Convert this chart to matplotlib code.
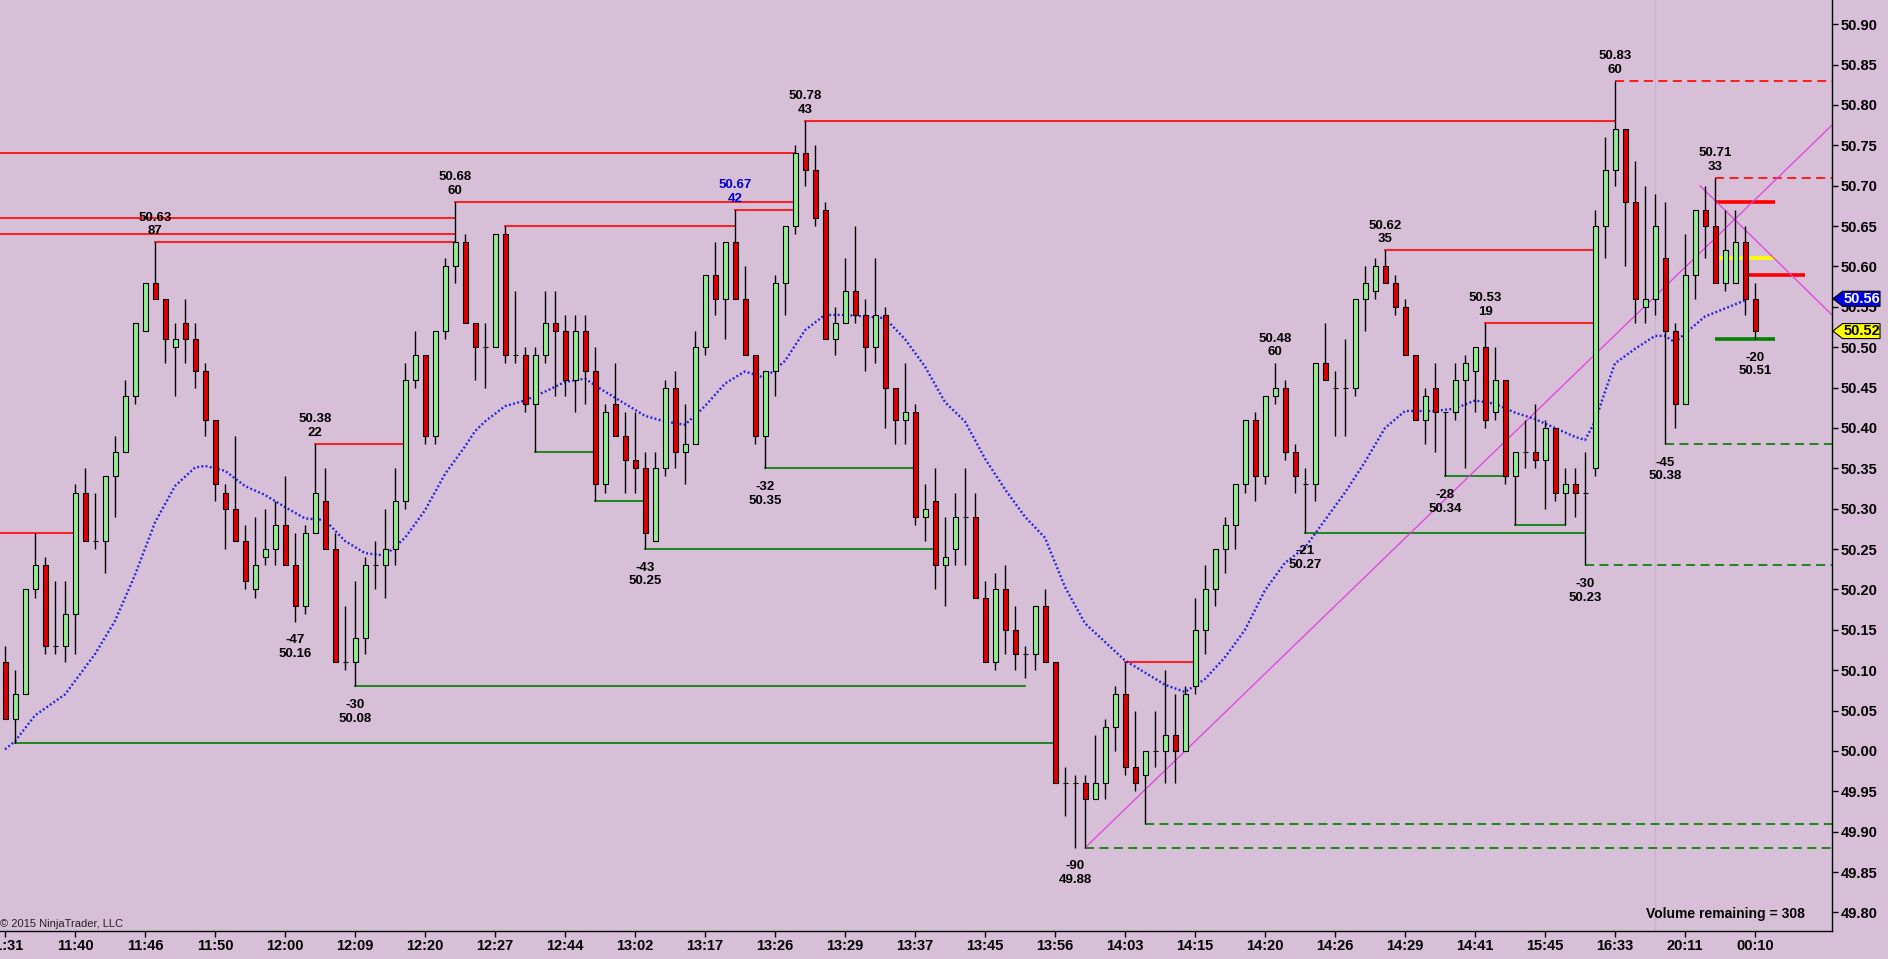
import matplotlib
matplotlib.use('Agg')
import matplotlib.pyplot as plt
from matplotlib.patches import Polygon
import numpy as np

# OHLC per bar
opens = [50.11, 50.04, 50.07, 50.20, 50.23, 50.13, 50.13, 50.17, 50.32, 50.26,
         50.26, 50.34, 50.37, 50.44, 50.52, 50.58, 50.56, 50.50, 50.53, 50.51,
         50.47, 50.41, 50.32, 50.30, 50.26, 50.20, 50.24, 50.25, 50.28, 50.23,
         50.18, 50.27, 50.31, 50.25, 50.11, 50.11, 50.14, 50.23, 50.23, 50.25,
         50.31, 50.46, 50.49, 50.39, 50.52, 50.60, 50.63, 50.53, 50.50, 50.50,
         50.64, 50.49, 50.49, 50.43, 50.49, 50.53, 50.52, 50.46, 50.52, 50.47,
         50.33, 50.43, 50.39, 50.36, 50.35, 50.26, 50.35, 50.45, 50.37, 50.38,
         50.50, 50.59, 50.56, 50.63, 50.56, 50.49, 50.39, 50.47, 50.58, 50.65,
         50.74, 50.72, 50.67, 50.51, 50.53, 50.57, 50.54, 50.50, 50.54, 50.45,
         50.41, 50.42, 50.29, 50.31, 50.23, 50.25, 50.29, 50.29, 50.19, 50.11,
         50.20, 50.15, 50.12, 50.12, 50.18, 50.11, 49.96, 49.96, 49.96, 49.94,
         49.96, 50.03, 50.07, 49.98, 49.97, 50.00, 50.00, 50.02, 50.00, 50.08,
         50.15, 50.20, 50.25, 50.28, 50.33, 50.41, 50.34, 50.44, 50.45, 50.37,
         50.33, 50.33, 50.48, 50.45, 50.45, 50.45, 50.56, 50.57, 50.60, 50.58,
         50.55, 50.49, 50.41, 50.45, 50.42, 50.42, 50.46, 50.47, 50.50, 50.42,
         50.46, 50.34, 50.37, 50.37, 50.36, 50.40, 50.32, 50.33, 50.32, 50.35,
         50.65, 50.72, 50.77, 50.68, 50.55, 50.56, 50.61, 50.52, 50.43, 50.59,
         50.67, 50.65, 50.58, 50.58, 50.63, 50.56]
highs = [50.13, 50.10, 50.20, 50.27, 50.24, 50.21, 50.21, 50.33, 50.35, 50.32,
         50.34, 50.39, 50.46, 50.53, 50.58, 50.63, 50.56, 50.53, 50.56, 50.53,
         50.48, 50.41, 50.33, 50.39, 50.28, 50.29, 50.30, 50.31, 50.34, 50.27,
         50.28, 50.38, 50.35, 50.27, 50.18, 50.21, 50.24, 50.26, 50.30, 50.35,
         50.48, 50.52, 50.49, 50.52, 50.61, 50.68, 50.64, 50.53, 50.53, 50.64,
         50.65, 50.57, 50.50, 50.50, 50.57, 50.57, 50.54, 50.54, 50.54, 50.50,
         50.43, 50.48, 50.42, 50.42, 50.37, 50.37, 50.46, 50.47, 50.43, 50.52,
         50.59, 50.63, 50.63, 50.67, 50.60, 50.49, 50.47, 50.59, 50.65, 50.75,
         50.78, 50.75, 50.68, 50.55, 50.61, 50.65, 50.56, 50.61, 50.55, 50.45,
         50.48, 50.43, 50.33, 50.35, 50.29, 50.32, 50.35, 50.32, 50.21, 50.22,
         50.23, 50.18, 50.13, 50.18, 50.20, 50.11, 49.98, 49.97, 49.97, 50.02,
         50.04, 50.08, 50.11, 50.05, 50.00, 50.05, 50.10, 50.07, 50.08, 50.19,
         50.23, 50.25, 50.29, 50.33, 50.41, 50.42, 50.44, 50.48, 50.46, 50.38,
         50.35, 50.48, 50.53, 50.47, 50.51, 50.56, 50.60, 50.61, 50.62, 50.59,
         50.56, 50.49, 50.45, 50.48, 50.42, 50.48, 50.49, 50.50, 50.53, 50.50,
         50.46, 50.37, 50.41, 50.43, 50.41, 50.40, 50.35, 50.35, 50.37, 50.67,
         50.76, 50.83, 50.77, 50.73, 50.70, 50.69, 50.68, 50.53, 50.64, 50.67,
         50.70, 50.71, 50.67, 50.67, 50.65, 50.58]
lows = [50.04, 50.01, 50.07, 50.19, 50.12, 50.12, 50.11, 50.12, 50.26, 50.25,
        50.22, 50.29, 50.37, 50.43, 50.52, 50.56, 50.48, 50.44, 50.48, 50.45,
        50.39, 50.31, 50.25, 50.26, 50.20, 50.19, 50.23, 50.23, 50.23, 50.16,
        50.17, 50.27, 50.25, 50.11, 50.10, 50.08, 50.12, 50.20, 50.19, 50.23,
        50.30, 50.45, 50.38, 50.38, 50.51, 50.58, 50.53, 50.46, 50.45, 50.50,
        50.48, 50.48, 50.42, 50.37, 50.48, 50.44, 50.44, 50.42, 50.43, 50.31,
        50.32, 50.39, 50.32, 50.32, 50.25, 50.26, 50.34, 50.35, 50.33, 50.38,
        50.49, 50.54, 50.51, 50.56, 50.49, 50.38, 50.35, 50.44, 50.54, 50.64,
        50.70, 50.65, 50.51, 50.49, 50.53, 50.53, 50.47, 50.48, 50.40, 50.38,
        50.38, 50.28, 50.26, 50.20, 50.18, 50.23, 50.23, 50.19, 50.11, 50.10,
        50.12, 50.10, 50.09, 50.10, 50.11, 49.96, 49.92, 49.88, 49.88, 49.94,
        49.94, 50.00, 49.97, 49.95, 49.91, 49.98, 49.96, 49.96, 50.00, 50.07,
        50.12, 50.18, 50.22, 50.25, 50.32, 50.31, 50.33, 50.43, 50.36, 50.32,
        50.27, 50.31, 50.46, 50.39, 50.39, 50.44, 50.52, 50.56, 50.58, 50.54,
        50.49, 50.41, 50.38, 50.37, 50.34, 50.41, 50.35, 50.42, 50.40, 50.41,
        50.33, 50.28, 50.35, 50.35, 50.30, 50.31, 50.28, 50.29, 50.23, 50.34,
        50.61, 50.70, 50.60, 50.53, 50.53, 50.54, 50.38, 50.40, 50.43, 50.56,
        50.61, 50.58, 50.57, 50.58, 50.54, 50.51]
closes = [50.04, 50.07, 50.20, 50.23, 50.13, 50.13, 50.17, 50.32, 50.26, 50.26,
          50.34, 50.37, 50.44, 50.53, 50.58, 50.56, 50.51, 50.51, 50.51, 50.47,
          50.41, 50.33, 50.30, 50.26, 50.21, 50.23, 50.25, 50.28, 50.23, 50.18,
          50.27, 50.32, 50.25, 50.11, 50.11, 50.14, 50.23, 50.23, 50.25, 50.31,
          50.46, 50.49, 50.39, 50.52, 50.60, 50.63, 50.53, 50.50, 50.50, 50.64,
          50.49, 50.49, 50.43, 50.49, 50.53, 50.52, 50.46, 50.52, 50.47, 50.33,
          50.42, 50.39, 50.36, 50.35, 50.27, 50.35, 50.45, 50.37, 50.38, 50.50,
          50.59, 50.56, 50.63, 50.56, 50.49, 50.39, 50.47, 50.58, 50.65, 50.74,
          50.72, 50.66, 50.51, 50.53, 50.57, 50.54, 50.50, 50.54, 50.45, 50.41,
          50.42, 50.29, 50.30, 50.23, 50.24, 50.29, 50.29, 50.19, 50.11, 50.20,
          50.15, 50.12, 50.12, 50.18, 50.11, 49.96, 49.96, 49.96, 49.94, 49.96,
          50.03, 50.07, 49.98, 49.96, 50.00, 50.00, 50.02, 50.00, 50.07, 50.15,
          50.20, 50.25, 50.28, 50.33, 50.41, 50.34, 50.44, 50.45, 50.37, 50.34,
          50.33, 50.48, 50.46, 50.45, 50.45, 50.56, 50.58, 50.60, 50.58, 50.55,
          50.49, 50.41, 50.44, 50.42, 50.42, 50.46, 50.48, 50.50, 50.41, 50.46,
          50.34, 50.37, 50.37, 50.36, 50.40, 50.32, 50.33, 50.32, 50.32, 50.65,
          50.72, 50.77, 50.68, 50.56, 50.56, 50.65, 50.52, 50.43, 50.59, 50.67,
          50.65, 50.58, 50.62, 50.63, 50.56, 50.52]

# time labels every 7 bars
time_labels = ['11:31', '11:40', '11:46', '11:50', '12:00', '12:09', '12:20', '12:27',
               '12:44', '13:02', '13:17', '13:26', '13:29', '13:37', '13:45', '13:56',
               '14:03', '14:15', '14:20', '14:26', '14:29', '14:41', '15:45', '16:33',
               '20:11', '00:10']

# moving average (blue dotted), sampled bar / value
ma_idx = [0, 1, 3, 6, 9, 11, 13, 15, 17, 19, 20, 22, 24, 26, 28, 30, 32, 34, 36, 38,
          40, 42, 44, 46, 47, 48, 50, 52, 54, 56, 58, 60, 62, 64, 66, 68, 70, 72, 74,
          76, 78, 80, 82, 84, 86, 88, 90, 92, 94, 96, 98, 100, 102, 104, 106, 108,
          110, 112, 114, 116, 118, 120, 122, 124, 126, 128, 130, 132, 134, 136, 138,
          140, 141, 143, 145, 147, 149, 151, 153, 155, 157, 158, 159, 160, 161, 163,
          165, 166, 167, 168, 170, 172, 174]
ma_val = [50.002, 50.012, 50.044, 50.070, 50.120, 50.161, 50.218, 50.283, 50.328,
          50.351, 50.353, 50.347, 50.328, 50.317, 50.302, 50.288, 50.286, 50.260,
          50.245, 50.242, 50.264, 50.298, 50.343, 50.377, 50.396, 50.408, 50.427,
          50.434, 50.445, 50.457, 50.461, 50.445, 50.430, 50.415, 50.408, 50.404,
          50.427, 50.455, 50.470, 50.462, 50.483, 50.521, 50.540, 50.540, 50.538,
          50.536, 50.510, 50.476, 50.432, 50.408, 50.362, 50.324, 50.290, 50.264,
          50.203, 50.158, 50.135, 50.112, 50.097, 50.082, 50.073, 50.089, 50.116,
          50.150, 50.199, 50.233, 50.252, 50.286, 50.320, 50.358, 50.400, 50.421,
          50.421, 50.421, 50.424, 50.434, 50.430, 50.419, 50.411, 50.400, 50.389,
          50.385, 50.408, 50.445, 50.480, 50.498, 50.514, 50.514, 50.506, 50.517,
          50.538, 50.548, 50.558]

# broken resistance / support levels
res_level = [50.27, 50.74, 50.66, 50.64, 50.63, 50.38, 50.68, 50.65, 50.67, 50.78,
             50.11, 50.62, 50.53]
res_from = [-0.5, -0.5, -0.5, -0.5, 15, 31, 45, 50, 73, 80, 112, 138, 148]
res_to = [7, 79, 45, 45, 45, 40, 79, 73, 79, 161, 119, 159, 159]
sup_level = [50.01, 50.08, 50.37, 50.31, 50.25, 50.35, 50.27, 50.34, 50.28]
sup_from = [1, 35, 53, 59, 64, 76, 130, 144, 151]
sup_to = [105, 102, 59, 64, 93, 91, 158, 150, 156]
# still open levels (dashed, to the right edge)
open_res_level = [50.83, 50.71]
open_res_from = [161, 171]
open_sup_level = [49.91, 49.88, 50.23, 50.38]
open_sup_from = [114, 108, 158, 166]

# short thick zone marks at the right
zone_level = [50.68, 50.61, 50.59, 50.51]
zone_from = [171, 171, 174, 171]
zone_to = [177, 177, 180, 177]
zone_color = ['#ff0000', '#ffff00', '#ff0000', '#008000']

# swing labels
hi_idx = [15, 31, 45, 73, 80, 127, 138, 148, 161, 171]
hi_cnt = [87, 22, 60, 42, 43, 60, 35, 19, 60, 33]
lo_idx = [29, 35, 64, 76, 107, 130, 144, 158, 166, 175]
lo_cnt = [-47, -30, -43, -32, -90, -21, -28, -30, -45, -20]

# trend lines
trend_up_x = [108, 182.7]
trend_up_y = [49.88, 50.775]
trend_dn_x = [169.5, 182.7]
trend_dn_y = [50.70, 50.54]

last_price = 50.52
ma_last = 50.56

plt.rcParams['font.family'] = ['Liberation Sans', 'DejaVu Sans']
bg = '#d8bfd8'

fig = plt.figure(figsize=(18.88, 9.59), dpi=100, facecolor=bg)
ax = fig.add_axes([0, 28 / 959, 1832 / 1888, 931 / 959])
ax.set_facecolor(bg)

n = len(opens)
x = np.arange(n)
o = np.array(opens)
c = np.array(closes)
h = np.array(highs)
l = np.array(lows)
xmin, xmax = -0.5, 182.7

# session separator
ax.axvline(165, color='#c4b4c4', lw=0.9, zorder=1)

# level lines
for lv, a, b in zip(res_level, res_from, res_to):
    ax.plot([a, b], [lv, lv], color='#ff1010', lw=1.3, zorder=2)
for lv, a, b in zip(sup_level, sup_from, sup_to):
    ax.plot([a, b], [lv, lv], color='#108010', lw=1.3, zorder=2)
for lv, a in zip(open_res_level, open_res_from):
    ax.plot([a, xmax], [lv, lv], color='#ff1010', lw=1.3, ls=(0, (5, 3)), zorder=2)
for lv, a in zip(open_sup_level, open_sup_from):
    ax.plot([a, xmax], [lv, lv], color='#108010', lw=1.3, ls=(0, (5, 3)), zorder=2)
for lv, a, b, col in zip(zone_level, zone_from, zone_to, zone_color):
    ax.plot([a, b], [lv, lv], color=col, lw=2.6, zorder=2, solid_capstyle='butt')

# trend lines
ax.plot(trend_up_x, trend_up_y, color='#e040e0', lw=0.9, zorder=2)
ax.plot(trend_dn_x, trend_dn_y, color='#e040e0', lw=0.9, zorder=2)

# moving average
ax.plot(ma_idx, ma_val, color='#2020e0', lw=1.7, ls=(0, (0.8, 1.0)), zorder=3)

# candles
ax.vlines(x, l, h, color='black', lw=1.0, zorder=4)
up = c >= o
body_lo = np.minimum(o, c)
body_h = np.abs(c - o)
ax.bar(x[up], body_h[up], bottom=body_lo[up], width=0.5, color='#90ee90',
       edgecolor='black', linewidth=0.8, zorder=5)
ax.bar(x[~up], body_h[~up], bottom=body_lo[~up], width=0.5, color='#dd0000',
       edgecolor='black', linewidth=0.8, zorder=5)

# swing labels
for i, cnt in zip(hi_idx, hi_cnt):
    col = '#0000cc' if i == 73 else 'black'
    ax.annotate('%.2f\n%d' % (highs[i], cnt), (i, highs[i]), xytext=(0, 3.5),
                textcoords='offset points', ha='center', va='bottom',
                fontsize=9.5, fontweight='bold', color=col, linespacing=1.2,
                zorder=6)
for i, cnt in zip(lo_idx, lo_cnt):
    ax.annotate('%d\n%.2f' % (cnt, lows[i]), (i, lows[i]), xytext=(0, -9),
                textcoords='offset points', ha='center', va='top',
                fontsize=9.5, fontweight='bold', color='black', linespacing=1.2,
                zorder=6)

ax.set_xlim(xmin, xmax)
ax.set_ylim(49.777, 50.930)

ax.yaxis.tick_right()
yt = np.round(np.arange(49.80, 50.901, 0.05), 2)
ax.set_yticks(yt)
ax.set_yticklabels(['%.2f' % v for v in yt])
ax.set_xticks(np.arange(0, n, 7))
ax.set_xticklabels(time_labels)
ax.tick_params(axis='both', length=4, width=1, color='black', labelsize=10.5,
               pad=2)
for lab in ax.get_xticklabels() + ax.get_yticklabels():
    lab.set_fontweight('bold')
for side in ['top', 'left']:
    ax.spines[side].set_visible(False)
for side in ['right', 'bottom']:
    ax.spines[side].set_color('black')
    ax.spines[side].set_linewidth(1.0)

# price markers on the axis
ytr = ax.get_yaxis_transform()
for val, fc, tc in [(ma_last, '#0000dd', 'white'), (last_price, '#ffff00', 'black')]:
    hh = 0.0093
    pts = [(1.0005, val), (1.0058, val + hh), (1.0262, val + hh),
           (1.0262, val - hh), (1.0058, val - hh)]
    ax.add_patch(Polygon(pts, closed=True, transform=ytr, facecolor=fc,
                         edgecolor='black', lw=0.8, clip_on=False, zorder=10))
    ax.text(1.0163, val, '%.2f' % val, transform=ytr, ha='center', va='center',
            fontsize=10.5, fontweight='bold', color=tc, clip_on=False, zorder=11)

ax.text(0.0, 0.007, '\u00a9 2015 NinjaTrader, LLC', transform=ax.transAxes,
        ha='left', va='center', fontsize=8, color='#222222')
ax.text(0.985, 0.018, 'Volume remaining = 308', transform=ax.transAxes,
        ha='right', va='center', fontsize=10, fontweight='bold', color='black')

fig.savefig('out.png', dpi=100, facecolor=bg)
